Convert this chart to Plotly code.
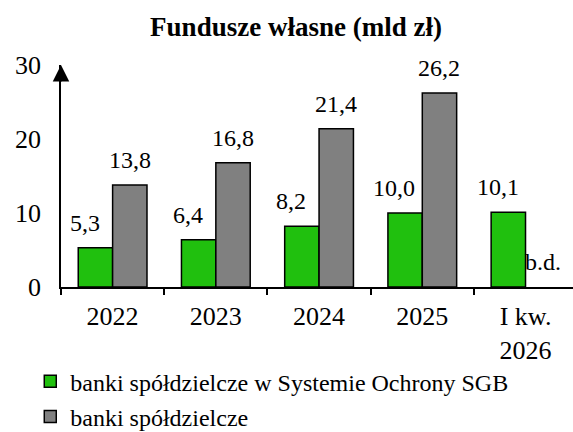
import plotly.graph_objects as go

categories = ["2022", "2023", "2024", "2025", "I kw.<br>2026"]
sgb_values = [5.3, 6.4, 8.2, 10.0, 10.1]
bs_values = [13.8, 16.8, 21.4, 26.2, None]
sgb_labels = ["5,3", "6,4", "8,2", "10,0", "10,1"]
bs_labels = ["13,8", "16,8", "21,4", "26,2", "b.d."]
y_ticks = [0, 10, 20, 30]
series_names = ["banki spółdzielcze w Systemie Ochrony SGB", "banki spółdzielcze"]
title_text = "<b>Fundusze własne (mld zł)</b>"

FONT = "Liberation Serif"
GREEN = "#20C00E"
GRAY = "#808080"

fig = go.Figure()
fig.add_trace(go.Bar(x=categories, y=sgb_values, name=series_names[0], legendgroup="a",
                     hoverinfo="skip",
                     marker=dict(color=GREEN, line=dict(color="black", width=1.5))))
fig.add_trace(go.Bar(x=categories, y=bs_values, name=series_names[1], legendgroup="b",
                     hoverinfo="skip",
                     marker=dict(color=GRAY, line=dict(color="black", width=1.5))))

anns = []
for i, (v, t) in enumerate(zip(sgb_values, sgb_labels)):
    anns.append(dict(x=i, y=v, xref="x", yref="y", text=t, showarrow=False,
                     yanchor="bottom", xanchor="center", xshift=-28, yshift=10,
                     font=dict(family=FONT, size=24, color="black")))
for i, (v, t) in enumerate(zip(bs_values, bs_labels)):
    anns.append(dict(x=i, y=(v if v is not None else 0), xref="x", yref="y", text=t,
                     showarrow=False, yanchor="bottom", xanchor="center", xshift=17, yshift=10,
                     font=dict(family=FONT, size=24, color="black")))
# arrow head on top of y axis
anns.append(dict(x=0, xref="paper", y=y_ticks[-1], yref="y", text="", showarrow=True,
                 ax=0, ay=18, arrowhead=2, arrowsize=2.2, arrowwidth=1.5, arrowcolor="black",
                 standoff=0))

fig.update_layout(
    width=573, height=432,
    margin=dict(l=61, r=0, t=65, b=145, autoexpand=False),
    paper_bgcolor="white", plot_bgcolor="white",
    barmode="group", bargap=0.334, bargroupgap=0,
    font=dict(family=FONT, color="black"),
    title=dict(text=title_text, x=296 / 573, xanchor="center", xref="container",
               y=1 - 27 / 432, yanchor="middle", yref="container",
               font=dict(family=FONT, size=27, color="black")),
    showlegend=True,
    legend=dict(orientation="v", x=-0.06, xanchor="left", y=-0.325, yanchor="top",
                font=dict(family=FONT, size=24, color="black"),
                traceorder="grouped", tracegroupgap=1, bgcolor="rgba(0,0,0,0)"),
    annotations=anns,
    hovermode=False,
)
fig.update_xaxes(type="category", range=[-0.5, 4.46], showline=True, linecolor="black", linewidth=1.5,
                 ticks="outside", tickson="boundaries", ticklen=6, tickcolor="black", tickwidth=1.5,
                 showgrid=False, zeroline=False, automargin=False, ticklabelstandoff=5,
                 tickfont=dict(family=FONT, size=26, color="black"))
fig.update_yaxes(range=[0, 30], tickvals=y_ticks, showline=True, linecolor="black", linewidth=1.5,
                 ticks="", showgrid=False, zeroline=False, ticklabelstandoff=13, automargin=False,
                 tickfont=dict(family=FONT, size=26, color="black"))

fig.write_html("out.html", config={"displayModeBar": False},
               post_script="document.body.style.margin='0';")
